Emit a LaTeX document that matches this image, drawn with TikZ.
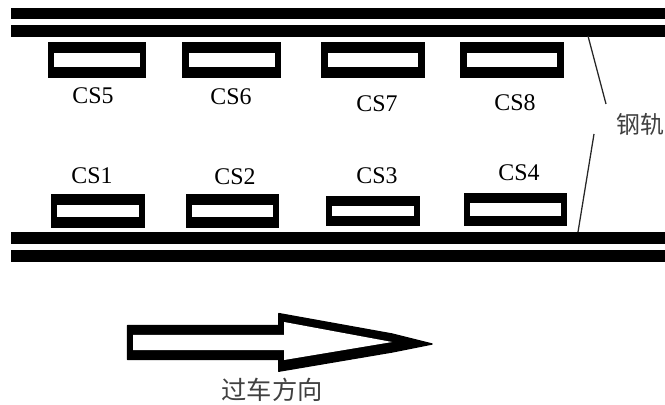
\documentclass[tikz,border=0pt]{standalone}
\usepackage{fontspec}
\setmainfont{Liberation Serif}
\newfontfamily\cjk{Noto Sans CJK SC}
\usetikzlibrary{positioning}

\begin{document}
\begin{tikzpicture}[
    rail/.style={fill=black, inner sep=0pt, minimum width=16.35cm},
    sensor/.style={fill=black, inner sep=0pt},
    slot/.style={fill=white, inner sep=0pt},
    lbl/.style={font=\fontsize{17}{18}\selectfont, text=black},
    cn/.style={font=\fontsize{17}{18}\selectfont\cjk, text=black!75},
    leader/.style={line width=0.9pt, black!85}
]
\useasboundingbox (0,0) rectangle (16.625,10.1);

% --- Rails ---
\node[rail, minimum height=0.275cm] (R1) at (8.45, 9.7625) {};
\node[rail, minimum height=0.3cm]   (R2) at (8.45, 9.325) {};
\node[rail, minimum height=0.3cm]   (R3) at (8.45, 4.15) {};
\node[rail, minimum height=0.3cm]   (R4) at (8.45, 3.7) {};

% --- Upper row: sensors ---
\node[sensor, minimum width=2.45cm,  minimum height=0.9cm] (S5) at (2.425, 8.6) {};
\node[slot, minimum width=2.15cm,  minimum height=0.35cm] (S5in) at (S5) {};
\node[sensor, minimum width=2.475cm, minimum height=0.9cm] (S6) at (5.7875, 8.6) {};
\node[slot, minimum width=2.15cm,  minimum height=0.35cm] (S6in) at (S6) {};
\node[sensor, minimum width=2.6cm,   minimum height=0.9cm] (S7) at (9.325, 8.6) {};
\node[slot, minimum width=2.25cm,  minimum height=0.35cm] (S7in) at (S7) {};
\node[sensor, minimum width=2.6cm,   minimum height=0.9cm] (S8) at (12.8, 8.6) {};
\node[slot, minimum width=2.25cm,  minimum height=0.35cm] (S8in) at (S8) {};

% --- Lower row: sensors ---
\node[sensor, minimum width=2.35cm,  minimum height=0.85cm]  (S1) at (2.45, 4.825) {};
\node[slot, minimum width=2.03cm,  minimum height=0.3cm] (S1in) at (S1) {};
\node[sensor, minimum width=2.325cm, minimum height=0.85cm]  (S2) at (5.8125, 4.825) {};
\node[slot, minimum width=2.03cm,  minimum height=0.3cm] (S2in) at (S2) {};
\node[sensor, minimum width=2.35cm,  minimum height=0.75cm]  (S3) at (9.325, 4.825) {};
\node[slot, minimum width=2.05cm,  minimum height=0.25cm] (S3in) at (S3) {};
\node[sensor, minimum width=2.575cm, minimum height=0.825cm] (S4) at (12.8875, 4.8625) {};
\node[slot, minimum width=2.27cm,  minimum height=0.33cm] (S4in) at (S4) {};

% --- Sensor labels ---
\node[lbl] (L5) at (2.325, 7.7) {CS5};
\node[lbl] (L6) at (5.775, 7.675) {CS6};
\node[lbl] (L7) at (9.425, 7.5) {CS7};
\node[lbl] (L8) at (12.875, 7.525) {CS8};
\node[lbl] (L1) at (2.3, 5.7) {CS1};
\node[lbl] (L2) at (5.875, 5.675) {CS2};
\node[lbl] (L3) at (9.425, 5.7) {CS3};
\node[lbl] (L4) at (12.975, 5.775) {CS4};

% --- Rail label and its leaders ---
\node[cn] (steel) at (16.0, 7.0) {钢轨};
\coordinate (topfoot) at (14.7, 9.2);
\coordinate (topend) at (15.15, 7.5);
\coordinate (lowend) at (14.85, 6.75);
\coordinate (lowfoot) at (14.45, 4.3);
\draw[leader] (topfoot) -- (topend);
\draw[leader] (lowend) -- (lowfoot);

% --- Direction arrow ---
\filldraw[black, line width=1pt, line join=round] (3.19,1.115) -- (6.97,1.115) -- (6.97,0.82) -- (9.8,1.3) -- (10.8,1.5) -- (9.8,1.75) -- (6.97,2.26) -- (6.97,1.96) -- (3.19,1.96) -- cycle;
\fill[white] (3.325,1.35) -- (7.1,1.35) -- (7.1,1.1) -- (9.8,1.55) -- (7.1,2.05) -- (7.1,1.725) -- (3.325,1.725) -- cycle;
\node[cn, font=\fontsize{18}{18}\selectfont\cjk] (dir) at (6.8, 0.35) {过车方向};

\end{tikzpicture}
\end{document}
